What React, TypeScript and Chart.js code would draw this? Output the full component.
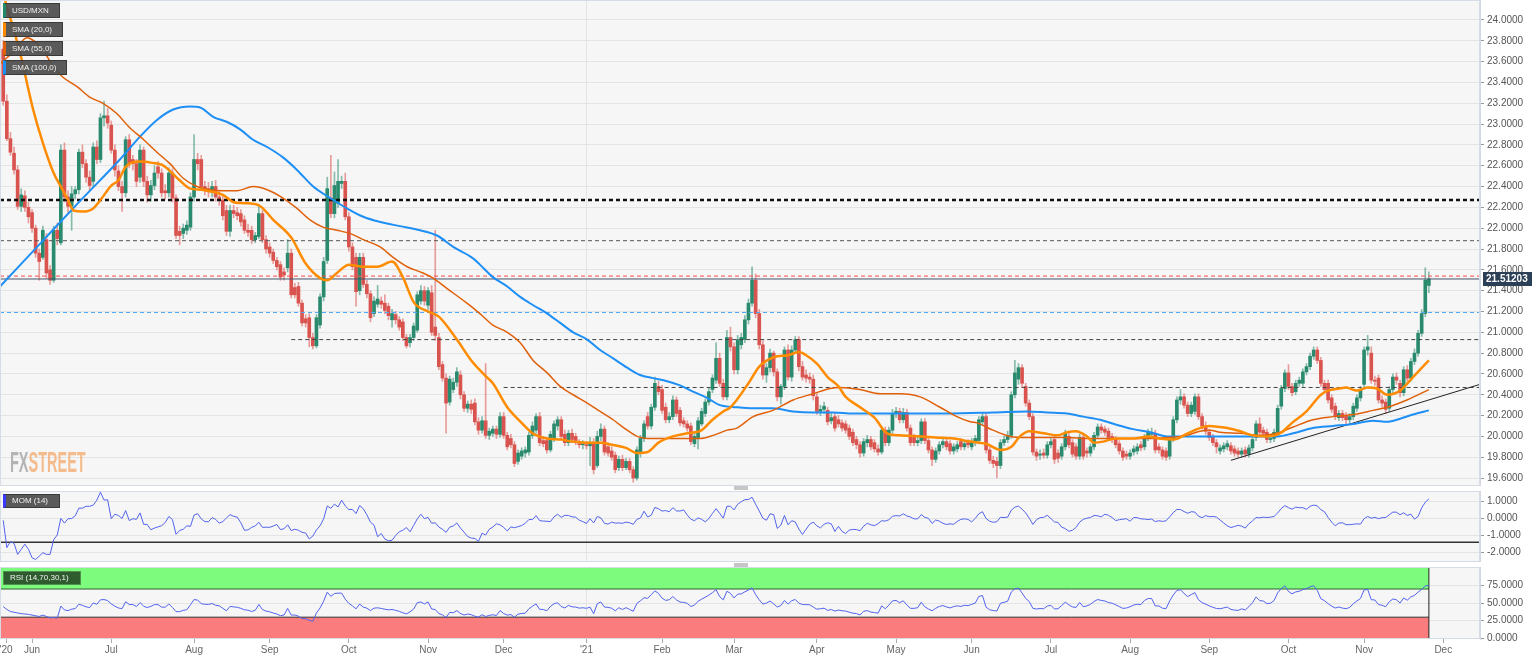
import React, { useEffect, useRef } from "react";
import { Chart, registerables } from "chart.js";
Chart.register(...registerables);

const FONT = "'Liberation Sans', Arial, sans-serif";

// ---- Daily candles USD/MXN: [open, high, low, close] ----
const may20 = [
  [23.72,23.80,23.18,23.22],[23.22,23.28,22.84,22.86],[22.86,22.92,22.70,22.73],[22.72,22.78,22.52,22.56],
  [22.56,22.60,22.18,22.21],[22.21,22.38,22.16,22.32],[22.31,22.36,22.16,22.20],[22.20,22.25,22.05,22.11],
];
const jun20 = [
  [22.15,22.18,21.96,22.00],[22.00,22.03,21.72,21.76],[21.76,21.80,21.50,21.68],[21.72,22.02,21.70,21.98],
  [21.89,21.95,21.52,21.57],[21.60,21.64,21.46,21.50],[21.50,22.02,21.48,21.98],[21.98,22.05,21.84,21.90],
  [21.86,22.80,21.84,22.75],[22.75,22.82,22.25,22.30],[22.30,22.36,22.15,22.21],[22.21,22.40,21.98,22.33],
  [22.33,22.40,22.28,22.37],[22.37,22.76,22.33,22.73],[22.73,22.80,22.58,22.62],[22.62,22.66,22.44,22.49],
  [22.49,22.55,22.36,22.41],[22.45,22.82,22.40,22.78],[22.78,22.84,22.62,22.66],[22.66,23.10,22.63,23.06],
  [23.06,23.22,22.98,23.08],[23.08,23.15,22.96,23.01],
];
const jul20 = [
  [22.99,23.03,22.72,22.75],[22.75,22.80,22.50,22.56],[22.55,22.60,22.36,22.40],[22.40,22.45,22.16,22.34],
  [22.34,22.88,22.30,22.85],[22.85,22.90,22.58,22.62],[22.66,22.70,22.56,22.62],[22.62,22.66,22.40,22.45],
  [22.49,22.80,22.44,22.75],[22.75,22.78,22.40,22.45],[22.45,22.50,22.25,22.32],[22.32,22.46,22.26,22.41],
  [22.41,22.60,22.37,22.53],[22.59,22.64,22.48,22.53],[22.53,22.57,22.30,22.34],[22.36,22.42,22.28,22.34],
  [22.34,22.58,22.30,22.53],[22.53,22.57,22.25,22.29],[22.29,22.32,21.90,21.93],[21.97,22.02,21.84,21.93],
  [21.95,22.04,21.90,22.00],[21.98,22.07,21.94,22.03],[22.01,22.34,21.98,22.30],
];
const aug20 = [
  [22.30,22.90,22.26,22.66],[22.66,22.72,22.56,22.62],[22.66,22.70,22.36,22.40],[22.40,22.45,22.32,22.36],
  [22.38,22.44,22.30,22.35],[22.35,22.45,22.30,22.40],[22.40,22.46,22.26,22.30],[22.30,22.36,22.22,22.27],
  [22.27,22.32,22.08,22.12],[22.17,22.22,21.93,21.97],[21.97,22.22,21.92,22.17],[22.17,22.22,22.10,22.14],
  [22.15,22.20,22.08,22.12],[22.14,22.18,22.02,22.06],[22.08,22.12,21.95,21.98],[21.98,22.04,21.92,21.96],
  [21.98,22.02,21.85,21.89],[21.89,21.96,21.86,21.93],[21.92,22.21,21.90,22.14],[22.14,22.17,21.86,21.89],
  [21.89,21.93,21.76,21.80],
];
const sep20 = [
  [21.82,21.86,21.72,21.76],[21.77,21.80,21.66,21.69],[21.69,21.72,21.60,21.63],[21.65,21.68,21.50,21.53],
  [21.58,21.62,21.50,21.55],[21.62,21.89,21.58,21.76],[21.76,21.80,21.33,21.36],[21.43,21.47,21.33,21.36],
  [21.44,21.48,21.25,21.28],[21.28,21.31,21.06,21.09],[21.13,21.17,21.05,21.09],[21.14,21.18,20.86,20.95],
  [20.95,20.99,20.84,20.87],[20.87,21.17,20.85,21.14],[21.07,21.37,21.04,21.34],[21.34,21.72,21.30,21.68],
  [21.69,22.49,21.66,22.38],[22.29,22.70,22.10,22.14],[22.14,22.54,22.10,22.41],[22.24,22.66,22.20,22.45],
  [22.43,22.50,22.38,22.45],[22.45,22.53,22.08,22.11],
];
const oct20 = [
  [22.11,22.15,21.78,21.82],[21.82,21.86,21.60,21.63],[21.72,21.76,21.25,21.39],[21.40,21.76,21.36,21.72],
  [21.72,21.76,21.43,21.46],[21.46,21.50,21.33,21.37],[21.37,21.40,21.10,21.14],[21.18,21.34,21.15,21.30],
  [21.27,21.45,21.24,21.32],[21.30,21.34,21.23,21.27],[21.28,21.36,21.18,21.21],[21.25,21.28,21.12,21.16],
  [21.12,21.22,21.05,21.18],[21.17,21.20,21.08,21.12],[21.12,21.15,21.02,21.05],[21.10,21.13,20.92,20.95],
  [20.95,20.98,20.85,20.87],[20.90,20.98,20.86,20.95],[20.95,21.09,20.92,21.06],[21.02,21.39,21.00,21.36],
  [21.30,21.45,21.27,21.40],[21.40,21.44,21.26,21.30],
];
const nov20 = [
  [21.26,21.43,21.22,21.40],[21.38,21.45,20.97,21.00],[21.05,21.98,20.92,20.97],[20.95,20.99,20.64,20.67],
  [20.69,20.72,20.53,20.56],[20.56,20.60,20.03,20.32],[20.33,20.58,20.30,20.55],[20.45,20.56,20.42,20.52],
  [20.52,20.66,20.48,20.62],[20.59,20.63,20.36,20.40],[20.40,20.43,20.24,20.27],[20.27,20.34,20.23,20.31],
  [20.31,20.35,20.22,20.26],[20.32,20.36,20.11,20.14],[20.14,20.18,20.02,20.06],[20.06,20.19,20.03,20.15],
  [20.15,20.70,19.98,20.01],[20.01,20.08,19.97,20.05],[20.03,20.10,20.00,20.07],[20.07,20.10,19.98,20.02],
  [20.02,20.23,19.99,20.19],
];
const dec20 = [
  [20.19,20.23,19.98,20.01],[20.01,20.04,19.87,19.90],[19.98,20.02,19.89,19.92],[19.92,19.95,19.71,19.74],
  [19.76,19.87,19.73,19.84],[19.81,19.89,19.78,19.86],[19.84,19.90,19.80,19.87],[19.85,20.04,19.82,20.01],
  [20.01,20.14,19.98,20.10],[20.06,20.22,20.03,20.19],[20.19,20.23,19.91,19.94],[19.96,20.00,19.90,19.93],
  [19.96,19.99,19.84,19.87],[19.87,20.05,19.85,20.02],[19.98,20.15,19.95,20.12],[20.10,20.19,20.06,20.16],
  [20.16,20.19,19.97,20.00],[20.02,20.06,19.91,19.94],[19.94,20.06,19.91,20.03],[20.03,20.07,19.94,19.97],
  [20.00,20.03,19.92,19.96],[19.93,19.97,19.89,19.92],[19.92,19.96,19.88,19.93],
];
const jan21 = [
  [19.92,19.95,19.88,19.91],[19.91,19.99,19.72,19.94],[19.94,19.98,19.64,19.68],[19.72,20.05,19.70,20.00],
  [20.00,20.12,19.96,20.07],[20.07,20.10,19.82,19.85],[19.90,19.94,19.81,19.84],[19.86,19.90,19.77,19.80],
  [19.82,19.85,19.65,19.68],[19.70,19.81,19.67,19.78],[19.78,19.82,19.67,19.70],[19.70,19.79,19.68,19.76],
  [19.76,19.79,19.65,19.68],[19.68,19.71,19.56,19.60],[19.60,19.90,19.58,19.87],[19.84,20.01,19.80,19.98],
  [19.98,20.15,19.95,20.12],[20.19,20.23,20.07,20.10],[20.10,20.31,20.07,20.28],[20.28,20.57,20.25,20.51],
  [20.48,20.53,20.40,20.43],
];
const feb21 = [
  [20.45,20.49,20.22,20.25],[20.28,20.32,20.13,20.16],[20.16,20.23,20.13,20.19],[20.19,20.39,20.16,20.35],
  [20.35,20.38,20.19,20.22],[20.25,20.28,20.10,20.13],[20.15,20.18,20.09,20.12],[20.12,20.15,20.05,20.08],
  [20.10,20.13,19.92,19.95],[19.93,20.03,19.90,20.00],[19.98,20.18,19.88,20.15],[20.12,20.27,20.10,20.24],
  [20.22,20.36,20.19,20.33],[20.33,20.47,20.30,20.43],[20.45,20.59,20.42,20.56],[20.54,20.90,20.51,20.75],
  [20.75,20.80,20.48,20.51],[20.51,20.55,20.35,20.38],[20.38,21.02,20.35,20.95],[20.95,21.05,20.82,20.86],
];
const mar21 = [
  [20.86,20.90,20.60,20.64],[20.64,20.97,20.60,20.93],[20.88,20.99,20.84,20.95],[20.93,21.16,20.90,21.12],
  [21.12,21.32,21.08,21.28],[21.28,21.63,21.25,21.50],[21.50,21.56,21.14,21.18],[21.18,21.22,20.84,20.88],
  [20.88,20.92,20.55,20.59],[20.59,20.70,20.52,20.66],[20.66,20.84,20.62,20.80],[20.80,20.82,20.58,20.62],
  [20.62,20.65,20.34,20.38],[20.38,20.50,20.31,20.48],[20.48,20.86,20.45,20.83],[20.83,20.88,20.54,20.57],
  [20.57,20.87,20.53,20.83],[20.83,20.96,20.80,20.93],[20.93,20.96,20.63,20.67],[20.67,20.72,20.54,20.57],
  [20.59,20.64,20.52,20.56],[20.57,20.61,20.51,20.55],[20.55,20.59,20.35,20.39],
];
const apr21 = [
  [20.38,20.42,20.21,20.24],[20.24,20.30,20.20,20.26],[20.26,20.33,20.22,20.29],[20.25,20.28,20.11,20.14],
  [20.15,20.22,20.12,20.18],[20.19,20.23,20.05,20.08],[20.16,20.20,20.09,20.12],[20.13,20.16,20.05,20.08],
  [20.12,20.15,20.03,20.06],[20.08,20.11,19.97,20.00],[20.04,20.07,19.91,19.94],[19.97,20.00,19.88,19.92],
  [19.92,19.95,19.80,19.84],[19.84,19.98,19.81,19.95],[19.94,20.01,19.90,19.97],[19.97,20.00,19.87,19.90],
  [19.94,19.97,19.85,19.88],[19.88,19.92,19.82,19.85],[19.85,20.09,19.83,20.06],[20.06,20.09,19.91,19.94],
  [19.94,20.09,19.91,20.06],[20.06,20.26,20.03,20.22],
];
const may21 = [
  [20.22,20.28,20.18,20.24],[20.24,20.27,20.13,20.16],[20.16,20.27,20.13,20.23],[20.23,20.26,20.05,20.08],
  [20.08,20.11,19.91,19.94],[19.99,20.02,19.91,19.94],[19.94,20.00,19.91,19.96],[19.96,20.17,19.93,20.14],
  [20.14,20.17,19.93,19.96],[19.96,19.99,19.84,19.87],[19.87,19.90,19.72,19.78],[19.78,19.89,19.75,19.86],
  [19.86,19.95,19.83,19.92],[19.92,19.98,19.89,19.95],[19.95,19.98,19.87,19.90],[19.93,19.96,19.83,19.86],
  [19.86,19.93,19.83,19.90],[19.88,19.95,19.85,19.92],[19.95,19.98,19.87,19.90],[19.90,19.96,19.87,19.93],
  [19.94,19.97,19.89,19.92],
];
const jun21 = [
  [19.90,19.98,19.87,19.95],[19.94,20.01,19.91,19.98],[19.96,20.19,19.93,20.16],[20.14,20.23,20.11,20.19],
  [20.19,20.22,19.84,19.87],[19.87,19.90,19.74,19.77],[19.77,19.81,19.70,19.74],[19.76,19.80,19.60,19.72],
  [19.72,19.97,19.69,19.94],[19.94,20.00,19.91,19.97],[19.97,20.05,19.94,20.01],[20.01,20.43,19.98,20.40],
  [20.40,20.73,20.37,20.61],[20.55,20.70,20.50,20.66],[20.66,20.69,20.47,20.51],[20.48,20.51,20.29,20.32],
  [20.32,20.35,20.16,20.19],[20.19,20.22,19.82,19.85],[19.85,19.88,19.77,19.81],[19.82,19.87,19.78,19.83],
  [19.84,19.88,19.79,19.82],[19.82,19.95,19.79,19.92],
];
const jul21 = [
  [19.92,19.98,19.89,19.95],[19.97,20.01,19.74,19.78],[19.84,19.87,19.75,19.79],[19.81,19.93,19.78,19.90],
  [19.90,20.06,19.87,20.03],[20.00,20.03,19.89,19.92],[19.94,19.97,19.80,19.83],[19.90,19.93,19.78,19.81],
  [19.81,20.02,19.78,19.99],[19.99,20.02,19.78,19.81],[19.86,19.89,19.80,19.84],[19.84,19.93,19.81,19.90],
  [19.90,20.04,19.87,20.01],[20.01,20.12,19.98,20.09],[20.09,20.12,20.03,20.06],[20.07,20.10,20.01,20.04],
  [20.05,20.08,19.96,19.99],[20.00,20.03,19.94,19.97],[19.97,20.00,19.89,19.92],[19.93,19.96,19.83,19.86],
  [19.86,19.89,19.77,19.80],[19.83,19.86,19.78,19.81],
];
const aug21 = [
  [19.81,19.87,19.78,19.84],[19.85,19.91,19.82,19.88],[19.86,19.93,19.83,19.90],[19.92,19.95,19.86,19.89],
  [19.90,20.02,19.87,19.99],[19.99,20.07,19.96,20.04],[20.02,20.08,19.99,20.04],[20.03,20.06,19.84,19.87],
  [19.90,19.93,19.84,19.87],[19.87,19.90,19.78,19.81],[19.86,19.89,19.77,19.80],[19.81,20.00,19.78,19.97],
  [19.98,20.19,19.95,20.16],[20.16,20.38,20.13,20.35],[20.35,20.45,20.31,20.38],[20.38,20.41,20.27,20.30],
  [20.30,20.33,20.19,20.22],[20.22,20.33,20.19,20.30],[20.24,20.41,20.21,20.38],[20.38,20.41,20.16,20.19],
  [20.19,20.22,20.07,20.10],[20.10,20.14,20.02,20.05],
];
const sep21 = [
  [20.04,20.07,19.96,19.99],[19.99,20.02,19.91,19.94],[19.94,19.97,19.84,19.90],[19.86,19.92,19.83,19.89],
  [19.88,19.94,19.85,19.91],[19.90,19.96,19.87,19.93],[19.91,19.94,19.83,19.86],[19.88,19.91,19.81,19.84],
  [19.86,19.89,19.80,19.83],[19.83,19.89,19.80,19.86],[19.87,19.90,19.80,19.83],[19.83,19.92,19.80,19.89],
  [19.89,20.00,19.86,19.97],[19.99,20.15,19.96,20.12],[20.12,20.18,20.01,20.04],[20.06,20.09,20.00,20.03],
  [20.04,20.07,19.94,19.97],[19.97,20.01,19.94,19.98],[19.98,20.07,19.95,20.04],[20.04,20.30,20.01,20.27],
  [20.29,20.49,20.26,20.46],[20.46,20.64,20.43,20.61],
];
const oct21 = [
  [20.61,20.69,20.45,20.48],[20.48,20.51,20.39,20.42],[20.43,20.54,20.40,20.51],[20.51,20.57,20.48,20.54],
  [20.51,20.65,20.48,20.62],[20.62,20.70,20.59,20.67],[20.67,20.80,20.64,20.77],[20.77,20.86,20.74,20.83],
  [20.83,20.86,20.70,20.73],[20.73,20.76,20.48,20.51],[20.51,20.54,20.42,20.45],[20.51,20.54,20.32,20.35],
  [20.37,20.40,20.23,20.26],[20.29,20.32,20.16,20.19],[20.18,20.25,20.15,20.22],[20.22,20.25,20.15,20.18],
  [20.20,20.23,20.11,20.16],[20.16,20.22,20.13,20.19],[20.19,20.32,20.16,20.29],[20.27,20.40,20.24,20.37],
  [20.37,20.48,20.34,20.45],
];
const nov21 = [
  [20.50,20.86,20.47,20.83],[20.83,20.97,20.78,20.86],[20.80,20.86,20.51,20.54],[20.54,20.58,20.49,20.53],
  [20.56,20.59,20.32,20.35],[20.35,20.39,20.28,20.32],[20.33,20.36,20.22,20.26],[20.27,20.48,20.24,20.45],
  [20.45,20.60,20.42,20.57],[20.57,20.61,20.50,20.54],[20.51,20.54,20.38,20.42],[20.42,20.67,20.39,20.64],
  [20.64,20.68,20.53,20.56],[20.56,20.75,20.53,20.72],[20.72,20.84,20.69,20.80],[20.80,21.02,20.77,20.99],
  [20.99,21.22,20.96,21.18],[21.18,21.62,21.15,21.50],[21.45,21.58,21.38,21.51203],
];

// ---- Moving averages: [candle index, value] ----
const sma20Pts = [
  [0.5,24.19],[4.7,23.68],[8.3,23.14],[11,22.82],[14,22.53],[16,22.40],[18,22.27],[19.5,22.17],[22,22.16],[25,22.19],
  [27,22.27],[30,22.41],[32,22.46],[34,22.59],[38,22.64],[41,22.63],[44,22.61],[46,22.56],[49,22.46],[52,22.38],
  [55,22.37],[58,22.35],[61,22.32],[64,22.25],[67,22.24],[71,22.22],[75,22.08],[80,21.91],[84,21.66],[88,21.52],
  [90,21.50],[93,21.58],[96,21.65],[100,21.63],[104,21.63],[108,21.68],[111,21.53],[114,21.29],[118,21.20],[121,21.15],
  [126,20.93],[130,20.73],[134,20.58],[136,20.51],[140,20.28],[144,20.13],[147,20.03],[151,19.98],[155,19.97],[158,19.95],
  [162,19.94],[166,19.94],[169,19.92],[173,19.89],[176,19.84],[179,19.85],[182,19.94],[186,20.00],[190,20.03],[194,20.06],
  [197,20.16],[200,20.24],[202,20.28],[207,20.51],[210,20.67],[214,20.76],[218,20.78],[221,20.81],[223,20.78],[226,20.70],
  [229,20.57],[232,20.48],[234,20.38],[238,20.28],[242,20.18],[245.5,20.03],[249,20.01],[255,20.00],[259,19.99],[264,19.98],
  [268.6,19.95],[271,19.94],[273,19.93],[277,19.87],[280,19.90],[282.4,20.00],[285,20.05],[289,20.03],[293,20.01],[295.5,20.04],
  [298,20.05],[301,20.00],[303,19.94],[305.5,19.95],[309,19.98],[314,19.98],[318,20.00],[321,19.98],[325,19.97],[329,20.03],
  [332.4,20.08],[335,20.10],[338,20.09],[340,20.08],[343.6,20.05],[347,20.01],[351,20.00],[354.7,20.03],[358,20.13],[362,20.24],
  [366,20.40],[368,20.44],[371,20.46],[373,20.47],[376,20.44],[379,20.47],[381.6,20.46],[384.4,20.40],[388,20.44],[391.6,20.57],
  [396,20.73],
];
const sma55Pts = [
  [-0.9,23.58],[3,23.70],[6.6,23.83],[11,23.71],[14,23.55],[16.6,23.45],[20.5,23.36],[24,23.26],[27.7,23.20],[31.6,23.10],
  [35,22.97],[39,22.85],[42.7,22.73],[46.3,22.62],[50,22.48],[53.8,22.40],[57.4,22.37],[61,22.36],[65,22.36],[69.4,22.40],
  [73.3,22.37],[77.7,22.29],[81.6,22.19],[85.2,22.08],[88.8,22.01],[92.7,21.98],[96.3,21.95],[100,21.89],[104.7,21.82],[108.3,21.72],
  [112.2,21.63],[116.6,21.57],[119.4,21.52],[123.3,21.42],[128.8,21.28],[132.4,21.18],[136,21.07],[140,21.00],[143.6,20.90],[147.2,20.73],
  [151.1,20.61],[154.7,20.48],[158.3,20.40],[162.2,20.32],[165.8,20.24],[169.4,20.16],[173.3,20.06],[176.1,20.00],[178.8,19.98],[184.4,19.98],
  [190,19.98],[193.6,19.98],[197.2,20.01],[201.1,20.06],[203.8,20.08],[208.3,20.19],[213.8,20.25],[219.4,20.35],[225,20.41],[229.7,20.46],
  [232.4,20.47],[238,20.45],[243.6,20.41],[249.1,20.41],[254.7,20.38],[260.2,20.28],[264.9,20.19],[268.6,20.14],[270.5,20.13],[274.9,20.06],
  [279.7,20.00],[284.4,19.99],[290,19.99],[295.5,19.99],[301,19.98],[306.6,19.98],[312.2,19.98],[317.7,19.98],[323.3,19.99],[328.8,20.01],
  [332.4,20.05],[335.2,20.06],[338,20.04],[343.6,20.03],[349.1,20.01],[353.8,20.03],[358.3,20.09],[363.8,20.16],[369.4,20.19],[375,20.21],
  [380.5,20.25],[384.4,20.28],[389.9,20.35],[396,20.45],
];
const sma100Pts = [
  [-0.9,21.44],[10.2,21.85],[21.3,22.26],[32.4,22.66],[38,22.88],[42.7,23.04],[47.2,23.14],[51.9,23.17],[54.7,23.16],[58.3,23.07],
  [62.2,23.02],[65.8,22.95],[69.4,22.85],[73.3,22.78],[77.7,22.68],[81.6,22.56],[86.1,22.40],[90.8,22.29],[95.5,22.19],[100,22.11],
  [104.7,22.06],[110.2,22.02],[115.8,21.98],[120.5,21.93],[125,21.82],[130.5,21.71],[132.4,21.65],[136,21.53],[140,21.44],[143.6,21.34],
  [147.2,21.26],[151.1,21.18],[154.7,21.09],[158.3,21.00],[162.2,20.93],[165.8,20.83],[169.4,20.75],[173.3,20.66],[176.9,20.59],[180.5,20.56],
  [184.4,20.53],[188,20.49],[191.6,20.43],[195.5,20.37],[199.1,20.30],[203.8,20.28],[208.3,20.27],[213.8,20.27],[219.4,20.24],[225,20.23],
  [230.5,20.23],[236.1,20.22],[247,20.22],[262,20.22],[274.9,20.23],[284.4,20.24],[290,20.23],[295.5,20.22],[300,20.19],[304.7,20.16],
  [309.4,20.11],[313.8,20.07],[318.6,20.04],[323.3,20.00],[332,20.00],[343.6,20.00],[354,20.00],[358.3,20.03],[363.8,20.08],[369.4,20.10],
  [375,20.12],[380.5,20.15],[384.4,20.14],[388,20.17],[391.6,20.21],[396,20.25],
];

// ---- Horizontal levels & trend line ----
const levelValues = [22.27, 21.88, 21.54, 21.19, 20.93, 20.47];
const levelStartIdx = [-0.9, -0.9, -0.9, -0.9, 80, 139];
const lastPrice = 21.51203;
const trendLinePts = [[341, 19.77], [410.2, 20.5]];

// ---- Indicator values read for the first candles (before 14 bars of history) ----
const momLead = [-0.1, -1.7, -1.35, -1.45, -2.1, -1.8, -1.5, -1.8, -2.3, -2.4, -2.2, -2.0, -2.1, -2.1];
const rsiLead = [45, 41, 38, 37, 36, 35, 34.5, 34, 33, 32, 31, 33, 31, 29];
const momRefLevel = -1.39;
const rsiUpper = 70;
const rsiLower = 30;

// ---- Axis ticks ----
const priceTicks = [19.6,19.8,20.0,20.2,20.4,20.6,20.8,21.0,21.2,21.4,21.6,21.8,22.0,22.2,22.4,22.6,22.8,23.0,23.2,23.4,23.6,23.8,24.0];
const momTicks = [-2, -1, 0, 1];
const rsiTicks = [0, 25, 50, 75];
const monthTickIdx = [0.8, 8, 30, 53, 74, 96, 118, 139, 162, 183, 203, 226, 248, 269, 291, 313, 335, 357, 378, 400];
const monthTickLabels = ["'20","Jun","Jul","Aug","Sep","Oct","Nov","Dec","'21","Feb","Mar","Apr","May","Jun","Jul","Aug","Sep","Oct","Nov","Dec"];
const yearTickIdx = 162;

const candles = [...may20, ...jun20, ...jul20, ...aug20, ...sep20, ...oct20, ...nov20, ...dec20, ...jan21, ...feb21,
  ...mar21, ...apr21, ...may21, ...jun21, ...jul21, ...aug21, ...sep21, ...oct21, ...nov21];

const X_MIN = -0.9;
const X_MAX = 410.2;

function computeRsi(closes: number[]) {
  const out: number[] = [];
  let ag = 0, al = 0;
  for (let i = 1; i <= 14; i++) { const d = closes[i] - closes[i - 1]; if (d > 0) ag += d; else al -= d; }
  ag /= 14; al /= 14;
  out[14] = 100 - 100 / (1 + ag / al);
  for (let i = 15; i < closes.length; i++) {
    const d = closes[i] - closes[i - 1];
    ag = (ag * 13 + Math.max(d, 0)) / 14;
    al = (al * 13 + Math.max(-d, 0)) / 14;
    out[i] = al === 0 ? 100 : 100 - 100 / (1 + ag / al);
  }
  return out;
}

function xScale(showLabels: boolean) {
  return {
    type: "linear", min: X_MIN, max: X_MAX, offset: false,
    afterBuildTicks: (s: any) => { s.ticks = monthTickIdx.map((v) => ({ value: v })); },
    ticks: {
      display: showLabels, autoSkip: false, maxRotation: 0, minRotation: 0, padding: 1,
      color: "#666", font: { size: 10, family: FONT },
      callback: (_v: any, i: number) => monthTickLabels[i],
    },
    grid: {
      offset: false,
      color: (ctx: any) => (ctx.tick && ctx.tick.value === yearTickIdx ? "#e3e3e3" : "rgba(0,0,0,0)"),
      drawTicks: showLabels, tickLength: 4, tickColor: "#aaa",
    },
    border: { display: false },
    afterFit: (s: any) => { s.paddingLeft = 0; s.paddingRight = 0; s.height = showLabels ? 18 : 0; },
  };
}

function yScale(min: number, max: number, ticks: number[]) {
  return {
    type: "linear", position: "right", min, max,
    afterBuildTicks: (s: any) => { s.ticks = ticks.map((v) => ({ value: v })); },
    ticks: {
      autoSkip: false, padding: 3, color: "#555", font: { size: 10, family: FONT },
      callback: (v: any) => Number(v).toFixed(4),
    },
    grid: { color: "#e4e4e4", lineWidth: 1, drawTicks: true, tickLength: 4, tickColor: "#999" },
    border: { display: true, color: "#d3d9e2" },
    afterFit: (s: any) => { s.width = 56; s.paddingTop = 0; s.paddingBottom = 0; },
  };
}

const panelPlugin = {
  id: "panelBg",
  beforeDraw(chart: any) {
    const { ctx, chartArea: a } = chart;
    ctx.save();
    ctx.fillStyle = "#f6f6f6";
    ctx.fillRect(a.left, a.top, a.right - a.left, a.bottom - a.top);
    ctx.restore();
  },
  afterDraw(chart: any) {
    const { ctx, chartArea: a } = chart;
    ctx.save();
    ctx.strokeStyle = "#d6dce5";
    ctx.lineWidth = 1;
    ctx.strokeRect(a.left + 0.5, a.top + 0.5, a.right - a.left - 1, a.bottom - a.top - 1);
    ctx.restore();
  },
};

const priceTagPlugin = {
  id: "priceTag",
  afterDraw(chart: any) {
    const { ctx } = chart;
    const y = chart.scales.y.getPixelForValue(lastPrice);
    const x0 = chart.chartArea.right + 3;
    ctx.save();
    ctx.fillStyle = "#2b3f57";
    ctx.fillRect(x0, Math.round(y) - 7, 49, 14);
    ctx.fillStyle = "#ffffff";
    ctx.font = "bold 10px " + FONT;
    ctx.textBaseline = "middle";
    ctx.textAlign = "left";
    ctx.fillText(lastPrice.toFixed(5), x0 + 3, Math.round(y) + 0.5);
    ctx.restore();
  },
};

const baseOpts = {
  responsive: false, animation: false, events: [], devicePixelRatio: 1,
  layout: { padding: 0 },
  plugins: { legend: { display: false }, tooltip: { enabled: false } },
};

const levelStyles = [
  { color: "#111111", width: 2.5, dash: [4, 3] },
  { color: "#555555", width: 1, dash: [4, 3] },
  { color: "#ff4a4a", width: 1, dash: [4, 3] },
  { color: "#52a8f5", width: 1.2, dash: [4, 3] },
  { color: "#444444", width: 1, dash: [4, 3] },
  { color: "#444444", width: 1, dash: [4, 3] },
];

export default function App() {
  const mainRef = useRef<HTMLCanvasElement>(null);
  const momRef = useRef<HTMLCanvasElement>(null);
  const rsiRef = useRef<HTMLCanvasElement>(null);

  useEffect(() => {
    Chart.defaults.font.family = FONT;
    const closes = candles.map((c) => c[3]);
    const mom = closes.map((c, i) => (i < 14 ? momLead[i] : c - closes[i - 14]));
    const rsiCalc = computeRsi(closes);
    const rsi = closes.map((_, i) => (i < 14 ? rsiLead[i] : rsiCalc[i]));
    const lastIdx = candles.length - 1;
    const isUp = (c: number[]) => c[3] >= c[0];

    const lineDs = (pts: number[][], color: string, width: number, order: number, extra: any = {}) => ({
      type: "line", data: pts.map(([x, y]) => ({ x, y })), borderColor: color, borderWidth: width,
      pointRadius: 0, fill: false, order, ...extra,
    });

    const mainDatasets: any[] = [
      {
        type: "bar", data: candles.map((c, i) => ({ x: i, y: [c[2], c[1]] })),
        backgroundColor: candles.map((c) => (isUp(c) ? "rgba(42,138,109,0.55)" : "rgba(217,83,79,0.55)")),
        barThickness: 1, grouped: false, order: 20,
      },
      {
        type: "bar", data: candles.map((c, i) => ({ x: i, y: [Math.min(c[0], c[3]), Math.max(c[0], c[3])] })),
        backgroundColor: candles.map((c) => (isUp(c) ? "#2a8a6d" : "#d9534f")),
        barThickness: 3, minBarLength: 1, grouped: false, order: 19,
      },
    ];
    levelValues.forEach((v, k) => {
      mainDatasets.push(lineDs([[levelStartIdx[k], v], [X_MAX, v]], levelStyles[k].color, levelStyles[k].width, 8,
        { borderDash: levelStyles[k].dash }));
    });
    mainDatasets.push(lineDs([[X_MIN, lastPrice], [X_MAX, lastPrice]], "#42546b", 1, 7));
    mainDatasets.push(lineDs(trendLinePts, "#222222", 1, 6));
    mainDatasets.push(lineDs(sma100Pts, "#1e8ff5", 2, 4, { cubicInterpolationMode: "monotone" }));
    mainDatasets.push(lineDs(sma55Pts, "#e0600a", 1.5, 3, { cubicInterpolationMode: "monotone" }));
    mainDatasets.push(lineDs(sma20Pts, "#ff8c00", 2.5, 2, { cubicInterpolationMode: "monotone" }));

    const mainMax = 24 + 20 / 104.1;
    const mainMin = mainMax - 486 / 104.1;
    const main = new Chart(mainRef.current as any, {
      type: "bar",
      data: { datasets: mainDatasets },
      options: { ...baseOpts, scales: { x: xScale(false), y: yScale(mainMin, mainMax, priceTicks) } } as any,
      plugins: [panelPlugin, priceTagPlugin],
    } as any);

    const momMax = 1 + 10.7 / 17;
    const momMin = momMax - 71 / 17;
    const momChart = new Chart(momRef.current as any, {
      type: "line",
      data: {
        datasets: [
          lineDs([[X_MIN, momRefLevel], [X_MAX, momRefLevel]], "#333333", 1.5, 5),
          lineDs(mom.map((v, i) => [i, v]), "#5264ee", 1, 1),
        ] as any,
      },
      options: { ...baseOpts, scales: { x: xScale(false), y: yScale(momMin, momMax, momTicks) } } as any,
      plugins: [panelPlugin],
    } as any);

    const rsiMin = -1;
    const rsiMax = -1 + 72 / 0.704;
    const rsiChart = new Chart(rsiRef.current as any, {
      type: "line",
      data: {
        datasets: [
          lineDs([[X_MIN, rsiUpper], [lastIdx, rsiUpper]], "#2f5f2f", 1, 10, { fill: "end", backgroundColor: "#7dfb7d" }),
          lineDs([[X_MIN, rsiLower], [lastIdx, rsiLower]], "#333333", 1, 10, { fill: "start", backgroundColor: "#fb7c7c" }),
          lineDs([[lastIdx, rsiMin], [lastIdx, rsiMax]], "#222222", 1, 9),
          lineDs(rsi.map((v, i) => [i, v]), "#5264ee", 1, 1),
        ] as any,
      },
      options: { ...baseOpts, scales: { x: xScale(true), y: yScale(rsiMin, rsiMax, rsiTicks) } } as any,
      plugins: [panelPlugin],
    } as any);

    return () => { main.destroy(); momChart.destroy(); rsiChart.destroy(); };
  }, []);

  const boxBase: any = {
    position: "absolute", left: 3, height: 14, background: "rgba(78,78,78,0.93)", border: "1px solid #3a3a3a",
    color: "#f2f2f2", fontSize: 8, lineHeight: "12px", paddingLeft: 6, boxSizing: "border-box", whiteSpace: "nowrap",
    fontFamily: FONT, overflow: "hidden",
  };
  const legend = [
    { label: "USD/MXN", accent: "#1f8a6a", top: 3, width: 57 },
    { label: "SMA (20,0)", accent: "#ff8c00", top: 22, width: 60 },
    { label: "SMA (55,0)", accent: "#e0600a", top: 41, width: 60 },
    { label: "SMA (100,0)", accent: "#1e8ff5", top: 60, width: 64 },
  ];

  return (
    <div style={{ position: "fixed", left: 0, top: 0, width: 1536, height: 657, background: "#ffffff", overflow: "hidden" }}>
      <canvas ref={mainRef} width={1536} height={486} style={{ position: "absolute", left: 0, top: 0, width: 1536, height: 486 }} />
      <canvas ref={momRef} width={1536} height={71} style={{ position: "absolute", left: 0, top: 491, width: 1536, height: 71 }} />
      <canvas ref={rsiRef} width={1536} height={90} style={{ position: "absolute", left: 0, top: 567, width: 1536, height: 90 }} />
      {legend.map((l) => (
        <div key={l.label} style={{ ...boxBase, top: l.top, width: l.width, height: 15, lineHeight: "13px", borderLeft: `3px solid ${l.accent}` }}>{l.label}</div>
      ))}
      <div style={{ ...boxBase, top: 494, width: 57, borderLeft: "3px solid #3a3aff" }}>MOM (14)</div>
      <div style={{ ...boxBase, top: 571, width: 78, background: "#2f5c2f", border: "1px solid #4e8f4e" }}>RSI (14,70,30,1)</div>
      <div style={{ position: "absolute", left: 734, top: 486, width: 14, height: 4, background: "#c6c6c6" }} />
      <div style={{ position: "absolute", left: 734, top: 563, width: 14, height: 4, background: "#c6c6c6" }} />
      <div style={{ position: "absolute", left: 10, top: 447, height: 30, whiteSpace: "nowrap", transform: "scaleX(0.5)", transformOrigin: "left top",
        fontFamily: "'Liberation Sans', Arial, sans-serif", fontWeight: "bold", fontSize: 29, lineHeight: "30px", opacity: 0.85 }}>
        <span style={{ color: "#a9a9a9" }}>FX</span><span style={{ color: "#f4b27a" }}>STREET</span>
      </div>
    </div>
  );
}
